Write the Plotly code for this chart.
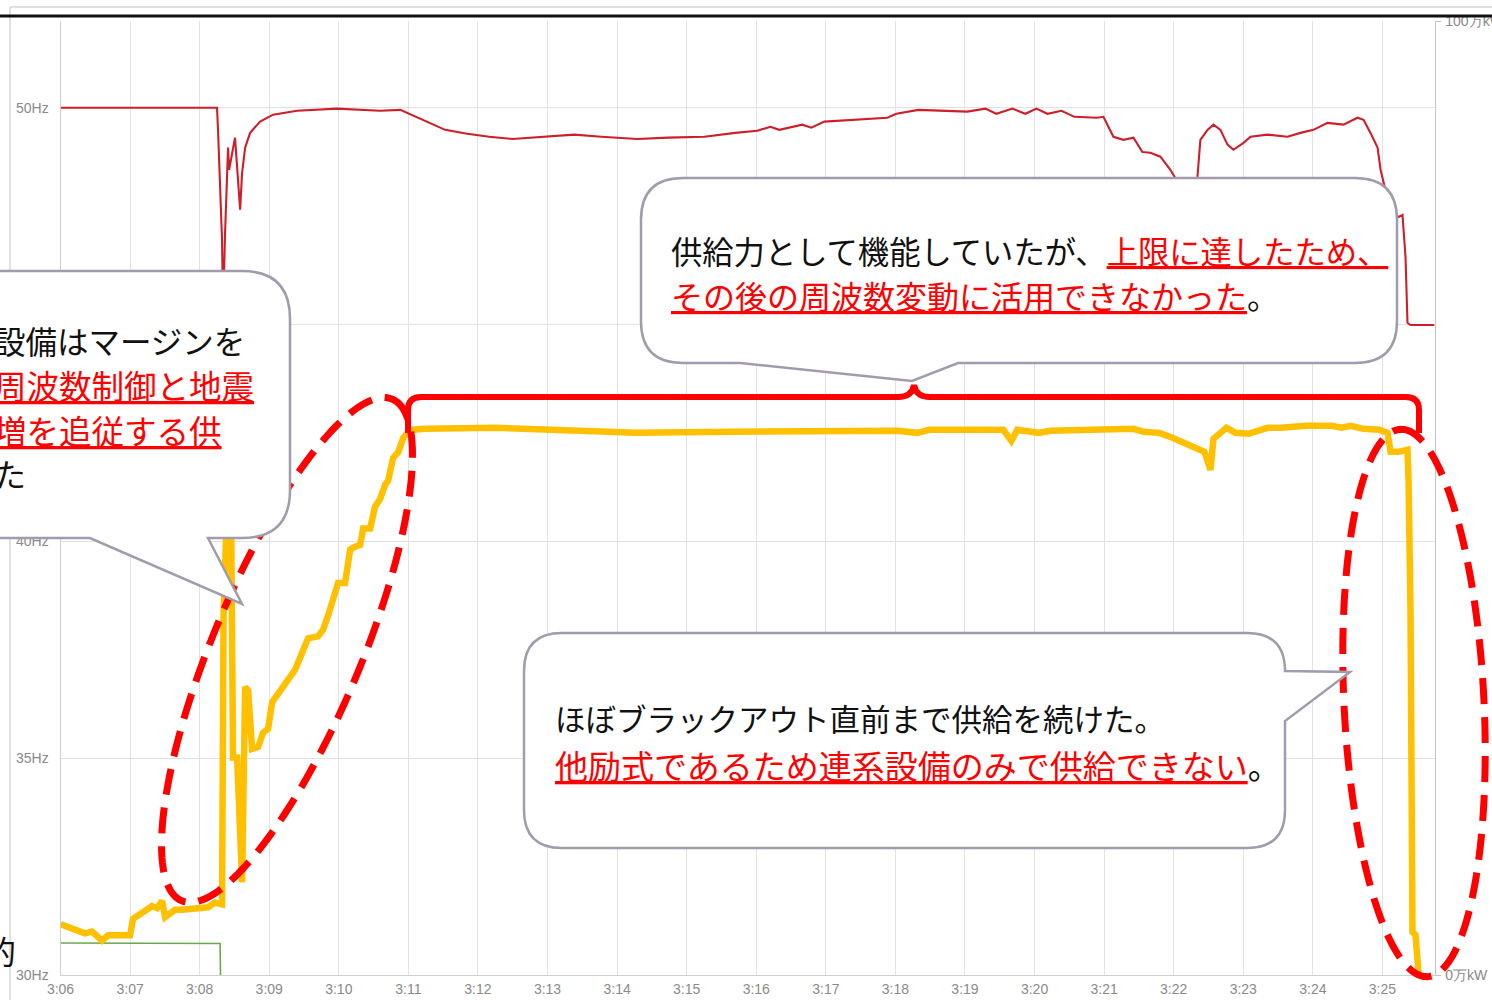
import numpy as np
import pandas as pd
import plotly.graph_objects as go

DAY = "2018-09-06 "

# System frequency (Hz)
freq_time = [
    "03:06:00.0", "03:08:15.0", "03:08:15.9", "03:08:16.7", "03:08:17.6", "03:08:19.3",
    "03:08:20.2", "03:08:21.9", "03:08:24.5", "03:08:25.4", "03:08:30.5", "03:08:32.3",
    "03:08:34.0", "03:08:34.9", "03:08:36.6", "03:08:39.2", "03:08:43.5", "03:08:52.1",
    "03:09:03.3", "03:09:24.0", "03:09:58.5", "03:10:35.6", "03:10:53.0", "03:10:59.0",
    "03:11:11.9", "03:11:31.7", "03:11:50.7", "03:12:09.7", "03:12:29.5", "03:12:48.5",
    "03:13:23.0", "03:13:46.3", "03:14:17.4", "03:14:44.1", "03:15:15.2", "03:15:41.9",
    "03:16:00.9", "03:16:12.1", "03:16:19.9", "03:16:39.7", "03:16:47.5", "03:16:58.7",
    "03:17:25.4", "03:17:53.0", "03:18:00.8", "03:18:19.8", "03:19:02.0", "03:19:17.6",
    "03:19:27.0", "03:19:40.9", "03:19:52.1", "03:20:01.6", "03:20:11.1", "03:20:23.2",
    "03:20:34.4", "03:20:53.4", "03:20:59.4", "03:21:08.0", "03:21:16.6", "03:21:25.3",
    "03:21:33.0", "03:21:39.9", "03:21:48.5", "03:21:57.1", "03:22:01.4", "03:22:10.1",
    "03:22:17.0", "03:22:20.4", "03:22:23.0", "03:22:29.1", "03:22:34.3", "03:22:40.3",
    "03:22:46.4", "03:22:51.5", "03:23:00.2", "03:23:06.2", "03:23:20.9", "03:23:38.1",
    "03:23:49.3", "03:24:00.5", "03:24:12.6", "03:24:26.4", "03:24:38.5", "03:24:43.7",
    "03:24:49.7", "03:24:55.8", "03:24:58.4", "03:25:07.0", "03:25:13.9", "03:25:17.3",
    "03:25:19.9", "03:25:21.6", "03:25:24.2", "03:25:44.9",
]
freq_hz = [
    50.00, 50.00, 49.45, 48.85, 47.95, 46.95,
    45.30, 47.10, 49.08, 48.57, 49.31, 48.64,
    48.18, 47.65, 48.50, 49.08, 49.42, 49.68,
    49.84, 49.93, 49.98, 49.93, 49.95, 49.88,
    49.72, 49.49, 49.40, 49.33, 49.28, 49.31,
    49.38, 49.33, 49.28, 49.31, 49.33, 49.42,
    49.47, 49.56, 49.49, 49.61, 49.54, 49.68,
    49.72, 49.77, 49.86, 49.95, 49.91, 49.98,
    49.86, 49.98, 49.86, 49.98, 49.86, 49.93,
    49.79, 49.77, 49.79, 49.33, 49.26, 49.31,
    48.98, 48.96, 48.87, 48.57, 48.38, 46.60,
    46.60, 48.38, 49.26, 49.49, 49.61, 49.49,
    49.15, 49.03, 49.19, 49.33, 49.38, 49.33,
    49.42, 49.49, 49.65, 49.61, 49.77, 49.72,
    49.42, 49.08, 48.57, 47.60, 47.48, 47.53,
    46.56, 45.04, 44.99, 44.99,
]

# Supply through the interconnection facility (万kW)
link_time = [
    "03:06:00.0", "03:06:12.5", "03:06:21.1", "03:06:27.2", "03:06:35.8", "03:06:41.0",
    "03:07:00.0", "03:07:02.5", "03:07:12.9", "03:07:18.9", "03:07:23.2", "03:07:27.6",
    "03:07:30.2", "03:07:38.8", "03:07:44.8", "03:07:56.0", "03:08:07.2", "03:08:13.3",
    "03:08:19.3", "03:08:20.6", "03:08:23.6", "03:08:27.1", "03:08:28.8", "03:08:32.3",
    "03:08:36.6", "03:08:39.2", "03:08:41.8", "03:08:45.2", "03:08:50.4", "03:08:54.7",
    "03:08:59.0", "03:09:02.5", "03:09:07.6", "03:09:13.7", "03:09:20.6", "03:09:22.3",
    "03:09:29.2", "03:09:33.5", "03:09:42.1", "03:09:46.5", "03:09:50.8", "03:09:54.2",
    "03:09:59.4", "03:10:05.4", "03:10:09.8", "03:10:14.1", "03:10:18.4", "03:10:21.0",
    "03:10:27.0", "03:10:31.3", "03:10:35.6", "03:10:40.0", "03:10:42.5", "03:10:46.8",
    "03:10:51.2", "03:10:55.5", "03:10:59.8", "03:11:04.1", "03:11:14.5", "03:12:15.7",
    "03:13:10.1", "03:14:16.6", "03:15:39.4", "03:18:01.6", "03:18:18.9", "03:18:29.2",
    "03:19:33.1", "03:19:40.0", "03:19:45.1", "03:20:03.3", "03:20:13.6", "03:21:14.9",
    "03:21:25.3", "03:21:33.9", "03:21:47.7", "03:21:58.9", "03:22:09.3", "03:22:17.9",
    "03:22:26.5", "03:22:31.7", "03:22:34.3", "03:22:40.3", "03:22:45.5", "03:22:53.3",
    "03:23:04.5", "03:23:20.9", "03:23:32.1", "03:23:54.5", "03:24:16.1", "03:24:24.7",
    "03:24:32.5", "03:24:43.7", "03:24:57.5", "03:25:04.4", "03:25:07.0", "03:25:13.9",
    "03:25:21.6", "03:25:22.5", "03:25:24.2", "03:25:25.9", "03:25:28.5", "03:25:31.1",
]
link_val = [
    5.31, 4.75, 4.37, 4.56, 3.61, 4.17,
    4.17, 5.88, 6.65, 7.21, 7.02, 7.78,
    6.07, 6.83, 6.83, 7.02, 7.10, 7.59,
    7.40, 37.7, 49.0, 49.0, 22.8, 22.8,
    9.7, 30.2, 29.8, 23.7, 23.9, 25.4,
    25.8, 28.6, 29.4, 30.5, 31.7, 32.0,
    34.3, 35.3, 35.5, 36.2, 37.7, 39.3,
    41.1, 41.1, 44.6, 44.9, 45.1, 46.8,
    46.8, 49.1, 49.9, 51.4, 51.8, 54.2,
    54.8, 56.3, 56.9, 57.15, 57.25, 57.36,
    57.15, 56.83, 56.94, 57.04, 56.83, 57.15,
    57.15, 55.99, 57.15, 56.83, 57.04, 57.36,
    57.25, 56.94, 56.83, 56.31, 55.78, 55.36,
    54.84, 52.95, 56.20, 56.83, 57.36, 56.83,
    56.73, 57.36, 57.36, 57.57, 57.57, 57.36,
    57.57, 57.25, 57.15, 56.83, 54.84, 54.84,
    55.05, 51.9, 38.3, 4.5, 4.2, 0.3,
]

# Other supply (万kW)
other_time = ["03:06:00.0", "03:07:00.0", "03:07:25.8", "03:08:00.3", "03:08:17.6", "03:08:18.0"]
other_val = [3.36, 3.36, 3.30, 3.30, 3.30, 0.0]

hz_ticks = [30, 35, 40, 45, 50]
hz_tick_text = ["30Hz", "35Hz", "40Hz", "", "50Hz"]
kw_ticks = [0, 100]
kw_tick_text = ["0万kW", "100万kW"]

W, H = 1492, 1000
PLOT_L, PLOT_R, PLOT_T, PLOT_B = 60.5, 1434.5, 21, 975

RED = "#ff0000"
FRAME = "#a29bab"
JP = "Noto Sans CJK JP"


def P(x, y):
    return f"{x / W:.5f},{1 - y / H:.5f}"


def bubble(l, t, r, b, rad, edge=None, tail=None):
    d = [f"M {P(l + rad, t)}", f"L {P(r - rad, t)}", f"Q {P(r, t)} {P(r, t + rad)}"]
    if edge == "right":
        a, tip, c = tail
        d += [f"L {P(r, a)}", f"L {P(*tip)}", f"L {P(r, c)}"]
    d += [f"L {P(r, b - rad)}", f"Q {P(r, b)} {P(r - rad, b)}"]
    if edge == "bottom":
        a, tip, c = tail
        d += [f"L {P(a, b)}", f"L {P(*tip)}", f"L {P(c, b)}"]
    d += [f"L {P(l + rad, b)}", f"Q {P(l, b)} {P(l, b - rad)}",
          f"L {P(l, t + rad)}", f"Q {P(l, t)} {P(l + rad, t)}", "Z"]
    return " ".join(d)


def ellipse(cx, cy, a, b, ux, uy, n=180):
    t = np.linspace(0, 2 * np.pi, n, endpoint=False)
    vx, vy = -uy, ux
    xs = cx + a * np.cos(t) * ux + b * np.sin(t) * vx
    ys = cy + a * np.cos(t) * uy + b * np.sin(t) * vy
    return "M " + " L ".join(P(x, y) for x, y in zip(xs, ys)) + " Z"


def ts(times):
    return pd.to_datetime([DAY + s for s in times])


fig = go.Figure()
fig.add_trace(go.Scatter(x=ts(freq_time), y=freq_hz, mode="lines", yaxis="y",
                         line=dict(color="#cc1f29", width=2.1), name="周波数"))
fig.add_trace(go.Scatter(x=ts(other_time), y=other_val, mode="lines", yaxis="y2",
                         line=dict(color="#6aa84f", width=1.6), name="other"))
fig.add_trace(go.Scatter(x=ts(link_time), y=link_val, mode="lines", yaxis="y2",
                         line=dict(color="#FFC000", width=6.5), name="連系設備"))

grid = "#e2e2e2"
axis_font = dict(family="Liberation Sans", size=14, color="#8a8a8a")

fig.update_layout(
    template="none",
    width=W, height=H,
    margin=dict(l=0, r=0, t=0, b=0),
    paper_bgcolor="white", plot_bgcolor="white",
    showlegend=False, hovermode=False,
    xaxis=dict(
        type="date", domain=[PLOT_L / W, PLOT_R / W],
        range=[DAY + "03:06:00", DAY + "03:25:44.9"],
        tick0=DAY + "03:06:00", dtick=60000, tickformat="%-H:%M",
        showgrid=True, gridcolor=grid, gridwidth=1,
        showline=True, linecolor="#cfcfcf", linewidth=1,
        ticks="", ticklabelstandoff=1, tickfont=axis_font,
        automargin=False, zeroline=False,
    ),
    yaxis=dict(
        domain=[1 - PLOT_B / H, 1 - PLOT_T / H], range=[30, 52.0],
        tickvals=hz_ticks, ticktext=hz_tick_text,
        showgrid=True, gridcolor=grid, gridwidth=1,
        showline=True, linecolor="#cfcfcf", linewidth=1,
        ticks="", ticklabelstandoff=8, tickfont=axis_font,
        automargin=False, zeroline=False,
    ),
    yaxis2=dict(
        overlaying="y", side="right", range=[0, 100],
        tickvals=kw_ticks, ticktext=kw_tick_text,
        showgrid=False, showline=True, linecolor="#c4c4c4", linewidth=1,
        ticks="outside", ticklen=5, tickcolor="#c4c4c4", ticklabelstandoff=2,
        tickfont=axis_font, automargin=False, zeroline=False,
    ),
)

shapes = []
# frame of the graph panel and the heading rule
shapes.append(dict(type="line", xref="paper", yref="paper", x0=10 / W, x1=1, y0=1 - 7 / H, y1=1 - 7 / H,
                   line=dict(color="#d6d6d6", width=1.5), layer="above"))
shapes.append(dict(type="line", xref="paper", yref="paper", x0=10 / W, x1=10 / W, y0=1 - 7 / H, y1=0,
                   line=dict(color="#d6d6d6", width=1.5), layer="above"))
shapes.append(dict(type="line", xref="paper", yref="paper", x0=0, x1=1, y0=1 - 16 / H, y1=1 - 16 / H,
                   line=dict(color="#111111", width=3), layer="above"))

# bracket over the plateau
bracket = (f"M {P(408, 433)} L {P(408, 410)} Q {P(408, 397)} {P(421, 397)} "
           f"L {P(898, 397)} Q {P(912, 397)} {P(914, 385)} Q {P(916, 397)} {P(930, 397)} "
           f"L {P(1406, 397)} Q {P(1419, 397)} {P(1419, 410)} L {P(1419, 433)}")
shapes.append(dict(type="path", xref="paper", yref="paper", path=bracket,
                   line=dict(color=RED, width=6), layer="above"))

# dashed ellipses
shapes.append(dict(type="path", xref="paper", yref="paper",
                   path=ellipse(287, 650, 272, 74, 0.3872, -0.9220),
                   line=dict(color=RED, width=7, dash="26px,13px"), layer="above"))
shapes.append(dict(type="path", xref="paper", yref="paper",
                   path=ellipse(1414, 703, 274, 70, -0.0493, -0.9988),
                   line=dict(color=RED, width=7, dash="26px,13px"), layer="above"))

# speech bubbles
for path in [
    bubble(-80, 271, 290, 538, 48, "bottom", (208, (242, 604), 90)),
    bubble(641, 178, 1397, 363, 42, "bottom", (958, (912, 381), 740)),
    bubble(524, 633, 1285, 848, 38, "right", (671, (1350, 672), 721)),
]:
    shapes.append(dict(type="path", xref="paper", yref="paper", path=path,
                       fillcolor="white", line=dict(color=FRAME, width=2.5), layer="above"))

fig.update_layout(shapes=shapes)


def red_u(s):
    return f'<span style="color:{RED}"><u>{s}</u></span>'


texts = [
    (-8, 340, 31.5, "設備はマージンを"),
    (-8, 384, 32.5, red_u("周波数制御と地震")),
    (-8, 430, 32.5, red_u("増を追従する供")),
    (-8, 473, 32, "た"),
    (669, 250, 31.3, "供給力として機能していたが、" + red_u("上限に達したため、")),
    (669, 295, 32, red_u("その後の周波数変動に活用できなかった") + "。"),
    (553, 718, 30.5, "ほぼブラックアウト直前まで供給を続けた。"),
    (553, 765, 33, red_u("他励式であるため連系設備のみで供給できない") + "。"),
    (-18, 950, 32, "的"),
]
for x, y, size, txt in texts:
    fig.add_annotation(x=x / W, y=1 - y / H, xref="paper", yref="paper",
                       xanchor="left", yanchor="middle", showarrow=False,
                       text=txt, font=dict(family=JP, size=size, color="#111111"))

fig.write_html("out.html")
